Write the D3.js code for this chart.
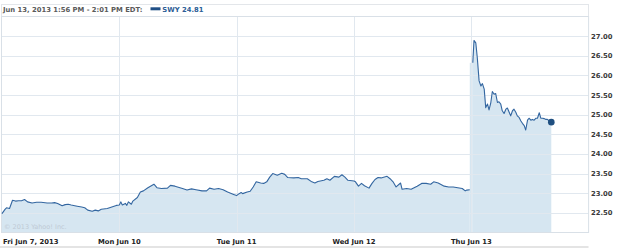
<!DOCTYPE html>
<html><head><meta charset="utf-8">
<script src="https://cdn.jsdelivr.net/npm/d3@7"></script>
<style>
html,body{margin:0;padding:0;background:#fff;}
svg{display:block;font-family:"DejaVu Sans",Verdana,sans-serif;}
</style></head>
<body><svg id="c" width="625" height="248"></svg>
<script>
// ---- data ----
const dayLabels = ["Fri Jun 7, 2013","Mon Jun 10","Tue Jun 11","Wed Jun 12","Thu Jun 13"];
const yTicks = [22.5,23,23.5,24,24.5,25,25.5,26,26.5,27];
const headerText = "Jun 13, 2013 1:56 PM - 2:01 PM EDT:";
const legendText = "SWY 24.81";
const watermark = "\u00a9 2013 Yahoo! Inc.";

const friTimes = ["09:30","09:40","09:45","09:55","10:05","10:15","10:25","10:35","10:45","10:55","11:10","11:25","11:40","12:00","12:15","12:25","12:35","12:50","13:00","13:10","13:20","13:40","13:55","14:05","14:15","14:30","14:40","14:50","15:00","15:20","15:35","15:50","16:00"];
const friPrices = [22.48,22.59,22.63,22.61,22.82,22.80,22.81,22.81,22.84,22.78,22.75,22.77,22.77,22.75,22.75,22.76,22.74,22.68,22.71,22.72,22.70,22.67,22.65,22.63,22.57,22.54,22.57,22.55,22.59,22.61,22.65,22.69,22.70];

const monTimes = ["09:35","09:40","09:50","09:55","10:00","10:10","10:15","10:30","10:40","10:50","11:05","11:25","11:35","11:50","12:10","12:20","12:35","13:00","13:15","13:30","13:45","14:05","14:20","14:30","14:45","15:00","15:15","15:30","15:50","16:00"];
const monPrices = [22.78,22.70,22.74,22.69,22.78,22.72,22.80,22.89,23.03,23.06,23.14,23.23,23.14,23.12,23.13,23.20,23.18,23.12,23.08,23.11,23.09,23.06,23.06,23.13,23.10,23.12,23.09,23.03,22.97,22.94];

const tueTimes = ["09:35","09:45","09:50","10:05","10:15","10:25","10:35","10:50","11:00","11:10","11:20","11:30","11:45","12:00","12:10","12:20","12:40","12:55","13:05","13:25","13:40","13:50","14:00","14:20","14:30","14:40","14:55","15:10","15:20","15:30","15:40","16:00"];
const tuePrices = [22.97,23.02,22.99,23.03,23.05,23.16,23.29,23.26,23.25,23.29,23.41,23.50,23.46,23.51,23.48,23.40,23.39,23.40,23.37,23.37,23.29,23.26,23.30,23.33,23.37,23.33,23.43,23.41,23.47,23.41,23.33,23.31];

const wedTimes = ["09:35","09:45","09:55","10:05","10:20","10:30","10:40","10:50","11:00","11:20","11:30","11:40","11:50","12:05","12:10","12:25","12:40","13:00","13:15","13:30","13:45","13:55","14:10","14:30","14:45","15:00","15:15","15:30","15:40","15:45","15:55"];
const wedPrices = [23.29,23.18,23.25,23.19,23.13,23.25,23.35,23.40,23.39,23.43,23.37,23.29,23.16,23.26,23.10,23.12,23.10,23.18,23.25,23.25,23.23,23.29,23.26,23.18,23.16,23.16,23.14,23.12,23.06,23.08,23.09];

const thuTimes = ["09:35","09:39","09:45","09:50","09:56","10:02","10:07","10:13","10:18","10:24","10:29","10:35","10:40","10:46","10:51","10:57","11:02","11:08","11:13","11:19","11:25","11:30","11:36","11:41","11:47","11:52","11:58","12:03","12:09","12:15","12:20","12:26","12:31","12:37","12:42","12:48","12:53","12:59","13:05","13:10","13:16","13:21","13:27","13:32","13:38","13:43","13:49","13:56"];
const thuPrices = [26.32,26.89,26.83,26.45,25.86,25.73,25.79,25.65,25.18,25.27,25.12,25.31,25.59,25.52,25.54,25.31,25.33,25.27,25.10,25.03,25.14,25.17,25.06,24.97,25.10,25.14,25.06,24.97,24.93,24.84,24.78,24.72,24.61,24.86,24.91,24.86,24.88,24.86,24.91,24.91,25.05,24.91,24.91,24.90,24.88,24.88,24.84,24.81];

// ---- helpers ----
const DAY_MIN = 390;
function tradeMin(dayIdx, hhmm){
  const [h,m] = hhmm.split(":").map(Number);
  return dayIdx*DAY_MIN + (h*60+m - 570);
}
function build(dayIdx, times, prices){
  return times.map((t,i)=>({t:tradeMin(dayIdx,t), v:prices[i]}));
}
const seriesA = [].concat(
  build(0,friTimes,friPrices), build(1,monTimes,monPrices),
  build(2,tueTimes,tuePrices), build(3,wedTimes,wedPrices));
const seriesB = build(4,thuTimes,thuPrices);
const allSeries = seriesA.concat(seriesB);

// ---- layout ----
const L = 2, R = 588.6, T = 16.5, B = 232.5;
const x = d3.scaleLinear().domain([0, 5*DAY_MIN]).range([L, R]);
const y = d3.scaleLinear().domain([22, 27.5]).range([B, T]);

const svg = d3.select("#c");

// header box
svg.append("rect").attr("x",1.5).attr("y",4.5).attr("width",587).attr("height",12)
  .attr("fill","#fff").attr("stroke","#e3e6ea");
svg.append("text").attr("x",3).attr("y",12.3).attr("font-size",6.8).attr("font-weight","bold")
  .attr("fill","#5a5a5a").text(headerText);
svg.append("rect").attr("x",150.5).attr("y",7.3).attr("width",10).attr("height",3).attr("fill","#1f4f86");
svg.append("text").attr("x",162.3).attr("y",12.3).attr("font-size",6.8).attr("font-weight","bold")
  .attr("fill","#2c5d96").text(legendText);

// area (continuous)
const area = d3.area().x(d=>x(d.t)).y0(B).y1(d=>y(d.v)).curve(d3.curveStepBefore);
const areaLin = d3.area().x(d=>x(d.t)).y0(B).y1(d=>y(d.v));
const areaColor = "#d6e6f1";
svg.append("path").datum(seriesA).attr("d",areaLin).attr("fill",areaColor);
svg.append("path").datum([seriesA[seriesA.length-1], seriesB[0]]).attr("d",area).attr("fill",areaColor);
svg.append("path").datum(seriesB).attr("d",areaLin).attr("fill",areaColor);

// watermark
svg.append("text").attr("x",4).attr("y",229).attr("font-size",6.5).attr("fill","#bfcad5").text(watermark);

// gridlines
const grid = svg.append("g").attr("stroke","#e1e8ef").attr("stroke-width",1);
grid.selectAll("line.h").data(yTicks).join("line")
  .attr("x1",L).attr("x2",R).attr("y1",d=>Math.round(y(d))+0.5).attr("y2",d=>Math.round(y(d))+0.5);
grid.selectAll("line.v").data(dayLabels.slice(1)).join("line")
  .attr("x1",(d,i)=>Math.round(x((i+1)*DAY_MIN))+0.5).attr("x2",(d,i)=>Math.round(x((i+1)*DAY_MIN))+0.5)
  .attr("y1",T).attr("y2",B);

// frame
svg.append("rect").attr("x",1.5).attr("y",T).attr("width",R-1.5).attr("height",B-T)
  .attr("fill","none").attr("stroke","#d9e0e7");

// line
const line = d3.line().x(d=>x(d.t)).y(d=>y(d.v));
svg.append("path").datum(seriesA).attr("d",line).attr("fill","none")
  .attr("stroke","#3366a0").attr("stroke-width",1.1).attr("stroke-linejoin","round");
svg.append("path").datum(seriesB).attr("d",line).attr("fill","none")
  .attr("stroke","#3366a0").attr("stroke-width",1.1).attr("stroke-linejoin","round");

// last point dot
const last = allSeries[allSeries.length-1];
svg.append("circle").attr("cx",x(last.t)).attr("cy",y(last.v)).attr("r",3.3).attr("fill","#1f4f80");

// y axis labels
svg.selectAll("text.yl").data(yTicks).join("text").attr("class","yl")
  .attr("x",591).attr("y",d=>y(d)+2.5).attr("font-size",6.8).attr("font-weight","bold")
  .attr("fill","#3a3a3a").text(d3.format(".2f"));

// x axis labels
svg.selectAll("text.xl").data(dayLabels).join("text").attr("class","xl")
  .attr("x",(d,i)=> i===0 ? 3 : x(i*DAY_MIN))
  .attr("text-anchor",(d,i)=> i===0 ? "start" : "middle")
  .attr("y",243.5).attr("font-size",6.8).attr("font-weight","bold")
  .attr("fill","#222").text(d=>d);

// bottom bar
svg.append("rect").attr("x",0).attr("y",246).attr("width",588.5).attr("height",2).attr("fill","#e4e4e4");
</script></body></html>
